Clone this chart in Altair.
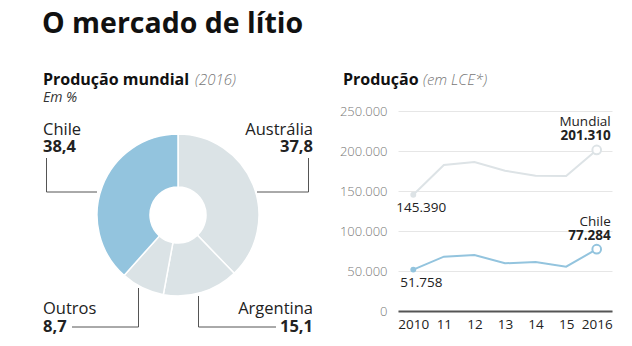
import altair as alt
import pandas as pd

# ---------------- data ----------------
countries = ["Austrália", "Argentina", "Outros", "Chile"]
shares = [37.8, 15.1, 8.7, 38.4]

years = [2010, 2011, 2012, 2013, 2014, 2015, 2016]
mundial = [145390, 182500, 186300, 175400, 169100, 168800, 201310]
chile = [51758, 67900, 70000, 59600, 61250, 55400, 77284]

y_ticks = [0, 50000, 100000, 150000, 200000, 250000]

# ---------------- layout ----------------
FONT = "Open Sans"
OX, OY = 398, 111          # plot-area origin on the canvas
W, H = 214, 200
DARK = "#222222"
GRAY_SLICE = "#dbe3e6"
BLUE = "#93c4de"
GRAY_LINE = "#dde3e6"


def X(px):
    return px - OX


def Y(py):
    return py - OY


blank = alt.Data(values=[{}])


def label(text, x, y, size=16.5, weight="normal", style="normal", align="left",
          color=DARK, baseline="alphabetic"):
    return alt.Chart(blank).mark_text(
        text=text, font=FONT, fontSize=size, fontWeight=weight, fontStyle=style,
        align=align, baseline=baseline, color=color
    ).encode(x=alt.value(X(x)), y=alt.value(Y(y)))


def seg(x1, y1, x2, y2):
    return alt.Chart(blank).mark_rule(color="#555555", strokeWidth=1).encode(
        x=alt.value(X(x1)), y=alt.value(Y(y1)),
        x2=alt.value(X(x2)), y2=alt.value(Y(y2)))


# ---------------- line chart ----------------
df = pd.DataFrame({
    "year": years * 2,
    "value": mundial + chile,
    "series": ["Mundial"] * len(years) + ["Chile"] * len(years),
})

color = alt.Color("series:N", scale=alt.Scale(domain=["Mundial", "Chile"],
                                              range=[GRAY_LINE, BLUE]), legend=None)

xenc = alt.X("year:Q", scale=alt.Scale(domain=[2009.5, 2016.5], nice=False, zero=False),
             axis=alt.Axis(values=years, title=None, ticks=False, grid=False,
                           domainColor="#555555", domainWidth=2,
                           labelExpr="datum.value == 2010 || datum.value == 2016 ? toString(datum.value) : substring(toString(datum.value), 2)",
                           labelFont=FONT, labelFontSize=13.5, labelColor=DARK,
                           labelPadding=6, labelFlush=False, labelOverlap=False))
yenc = alt.Y("value:Q", scale=alt.Scale(domain=[0, 250000], nice=False),
             axis=alt.Axis(values=y_ticks, title=None, ticks=False, domain=False,
                           grid=True, gridColor="#e6e6e6", gridWidth=1,
                           labelExpr="replace(format(datum.value, ',d'), ',', '.')",
                           labelFont=FONT, labelFontSize=13, labelColor="#777777",
                           labelFontWeight=300, labelPadding=11, labelOverlap=False))

base = alt.Chart(df)
lines = base.mark_line(strokeWidth=2).encode(x=xenc, y=yenc, color=color, detail="series:N")
first_pts = base.transform_filter("datum.year == 2010").mark_point(
    filled=True, size=35, opacity=1).encode(x=xenc, y=yenc, color=color)
last_pts = base.transform_filter("datum.year == 2016").mark_point(
    filled=False, fill="white", size=75, strokeWidth=2, opacity=1).encode(
    x=xenc, y=yenc, color=color)

fmt = "replace(format(datum.value, ',d'), ',', '.')"
first_lbl = base.transform_filter("datum.year == 2010").transform_calculate(
    lbl=fmt).mark_text(font=FONT, fontSize=13.5, color=DARK, align="center",
                       baseline="middle", dx=8, dy=13).encode(
    x=xenc, y=yenc, text="lbl:N")
last_val = base.transform_filter("datum.year == 2016").transform_calculate(
    lbl=fmt).mark_text(font=FONT, fontSize=13.5, fontWeight="bold", color=DARK,
                       align="right", baseline="alphabetic", dx=14, dy=-9.5).encode(
    x=xenc, y=yenc, text="lbl:N")
last_name = base.transform_filter("datum.year == 2016").mark_text(
    font=FONT, fontSize=13.5, color=DARK, align="right", baseline="alphabetic",
    dx=14, dy=-23.5).encode(x=xenc, y=yenc, text="series:N")

# ---------------- donut ----------------
pie = pd.DataFrame({"country": countries, "share": shares})
donut = alt.Chart(pie).transform_window(idx="row_number()").mark_arc(
    innerRadius=28, outerRadius=81, stroke="white", strokeWidth=1.5
).encode(
    theta=alt.Theta("share:Q", stack=True),
    order=alt.Order("idx:Q"),
    color=alt.Color("country:N", scale=alt.Scale(
        domain=countries, range=[GRAY_SLICE, GRAY_SLICE, GRAY_SLICE, BLUE]), legend=None),
    x=alt.value(X(178)), y=alt.value(Y(215)),
)

texts = [
    label("O mercado de lítio", 42, 33, size=28.5, weight="bold", color="#111111"),
    label("Produção mundial", 43, 85, size=16, weight="bold", color="#111111"),
    label("(2016)", 195, 85, size=15, style="italic", weight=300, color="#777777"),
    label("Em %", 43, 102, size=14, style="italic", color="#333333"),
    label("Produção", 343, 85, size=16, weight="bold", color="#111111"),
    label("(em LCE*)", 423, 85, size=15, style="italic", weight=300, color="#777777"),
    label("Chile", 43, 135),
    label("38,4", 43, 152, weight="bold"),
    label("Austrália", 313, 135, align="right"),
    label("37,8", 313, 152, weight="bold", align="right"),
    label("Outros", 43, 314),
    label("8,7", 43, 332, weight="bold"),
    label("Argentina", 313, 314, align="right"),
    label("15,1", 313, 332, weight="bold", align="right"),
]

leaders = [
    seg(46.5, 158, 46.5, 192), seg(46.5, 192, 97, 192),
    seg(308.5, 158, 308.5, 192), seg(257, 192, 308.5, 192),
    seg(138.5, 288, 138.5, 327), seg(72, 327, 138.5, 327),
    seg(198.5, 296, 198.5, 327), seg(198.5, 327, 276, 327),
]

chart = alt.layer(
    lines, first_pts, last_pts, first_lbl, last_val, last_name,
    donut, *leaders, *texts
).resolve_scale(color="independent").properties(
    width=W, height=H,
    padding={"left": OX, "top": OY, "right": 632 - OX - W, "bottom": 346 - OY - H},
    autosize="none", background="white",
).configure_view(stroke=None).configure_axis(labelOverlap=False)

chart.save("out.html", embed_options={"renderer": "svg", "actions": False})
